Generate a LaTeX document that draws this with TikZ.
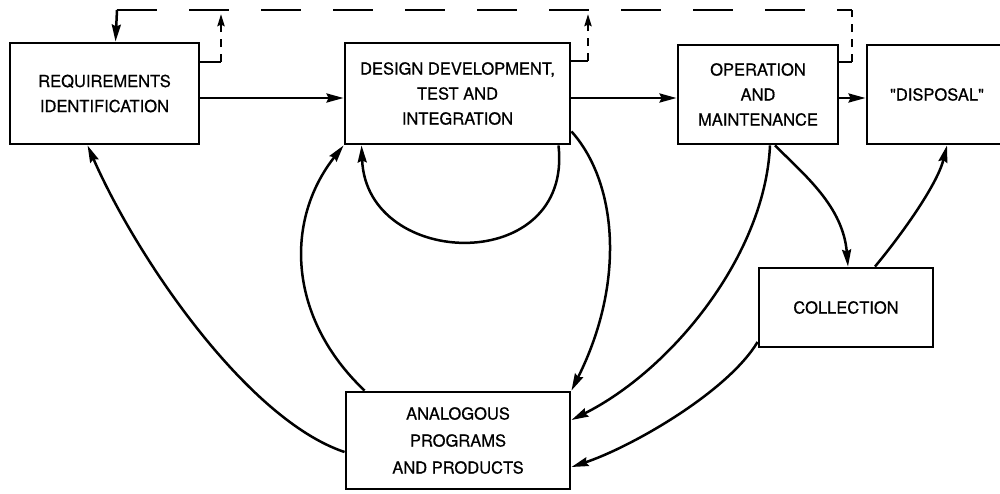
\documentclass[tikz,border=0pt]{standalone}
\usepackage{fontspec}
\setmainfont{TeX Gyre Heros}[FakeBold=0.6]
\usetikzlibrary{arrows.meta}
\begin{document}
\begin{tikzpicture}[x=1pt,y=-1pt,
  box/.style={draw, line width=2.9pt, align=center, inner sep=0pt,
    font=\fontsize{16.5}{25}\selectfont},
  conn/.style={line width=2.5pt, -{Stealth[length=17pt,width=9pt,inset=2pt]}},
  stub/.style={line width=2.5pt},
  fbv/.style={line width=2.5pt, dash pattern=on 8pt off 7pt},
  fbh/.style={line width=2.5pt, dash pattern=on 40pt off 32pt},
  uptip/.style={-{Stealth[length=12pt,width=7pt,inset=1.5pt]}}]
\useasboundingbox (0,0) rectangle (1000,493);
% boxes
\node[box, minimum width=189pt, minimum height=101pt] (req) at (104.5,93.5) {REQUIREMENTS\\IDENTIFICATION};
\node[box, minimum width=225pt, minimum height=101pt] (des) at (457.5,93.5) {DESIGN DEVELOPMENT,\\TEST AND\\INTEGRATION};
\node[box, minimum width=160pt, minimum height=99pt] (ope) at (758,94.5) {OPERATION\\AND\\MAINTENANCE};
\node[box, minimum width=156pt, minimum height=99pt, text width=140pt] (dis) at (945,94.5) {\hspace*{-16pt}\textquotedbl DISPOSAL\textquotedbl};
\node[box, minimum width=174pt, minimum height=79pt] (col) at (846,307.5) {COLLECTION};
\node[box, minimum width=224pt, minimum height=97pt, font=\fontsize{16.5}{27}\selectfont] (ana) at (458,440.5) {ANALOGOUS\\PROGRAMS\\AND PRODUCTS};
% feedback coordinates
\coordinate (tl) at (117,10);
\coordinate (t1) at (221,10);
\coordinate (t2) at (588,10);
\coordinate (tr) at (852,10);
\coordinate (s1) at (221,62);
\coordinate (s2) at (588,61);
\coordinate (s3) at (852,62);
% dashed feedback
\draw[fbh] (tl) -- (tr);
\draw[stub] ([yshift=31.5pt]req.east) -- (s1);
\draw[fbv, uptip, shorten >=4pt] (s1) -- (t1);
\draw[stub] ([yshift=32.5pt]des.east) -- (s2);
\draw[fbv, uptip, shorten >=4pt] (s2) -- (t2);
\draw[stub] ([yshift=32.5pt]ope.east) -- (s3);
\draw[fbv] (s3) -- (tr);
\draw[conn] (tl) -- ([xshift=107pt]req.north west);
% main flow
\draw[conn] ([yshift=-4.5pt]req.east) -- ([yshift=-4.5pt]des.west);
\draw[conn] ([yshift=-4.5pt]des.east) -- ([yshift=-3.5pt]ope.west);
\draw[conn] ([yshift=-3.5pt]ope.east) -- ([yshift=-3.5pt]dis.west);
% curves
\draw[conn] ([yshift=-11.5pt]ana.west) .. controls +(-96,-32) and +(51,116) .. ([xshift=79pt]req.south west);
\draw[conn] ([xshift=20pt]ana.north west) .. controls +(-76,-72) and +(-60,76) .. (des.south west);
\draw[conn] ([xshift=-13pt]des.south east) .. controls +(15,130) and +(5,125) .. ([xshift=18pt]des.south west);
\draw[conn] ([yshift=14pt]des.south east) .. controls +(45,50) and +(55,-110) .. (ana.north east);
\draw[conn] ([xshift=12pt]ope.south) .. controls +(-5,110) and +(100,-50) .. ([yshift=20.5pt]ana.east);
\draw[conn] ([xshift=17pt]ope.south) .. controls +(30,30) and +(-5,-60) .. ([xshift=2pt]col.north);
\draw[conn] ([xshift=29pt]col.north) .. controls +(25,-30) and +(-10,40) .. ([xshift=2pt]dis.south);
\draw[conn] ([yshift=-34.5pt]col.west) .. controls +(-30,50) and +(60,-20) .. ([yshift=-26.5pt]ana.east);
\end{tikzpicture}
\end{document}
